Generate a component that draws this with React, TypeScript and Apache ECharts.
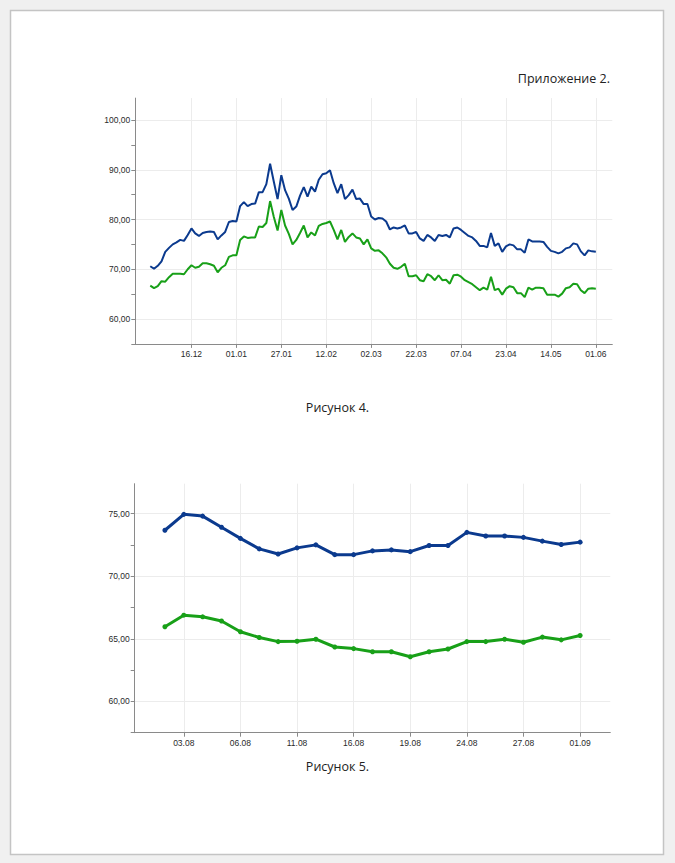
import React, { useEffect, useRef } from "react";
import * as echarts from "echarts";

// ---- Figure 4 (top chart) ----
const topBlue = [
  70.6, 70.1, 70.7, 71.6, 73.5, 74.3, 75.0, 75.4, 75.9, 75.7,
  76.9, 78.2, 77.2, 76.7, 77.3, 77.5, 77.6, 77.5, 76.0, 76.8,
  77.5, 79.5, 79.7, 79.6, 82.7, 83.5, 82.7, 83.1, 83.2, 85.5,
  85.5, 87.1, 91.2, 87.6, 84.1, 88.9, 85.9, 84.2, 81.9, 82.6,
  84.8, 86.5, 84.6, 86.6, 85.6, 88.0, 89.1, 89.3, 89.9, 87.3,
  85.3, 87.1, 84.1, 84.9, 86.0, 84.1, 84.2, 83.1, 83.1, 80.6,
  80.0, 80.3, 80.2, 79.6, 78.0, 78.4, 78.2, 78.4, 78.8, 77.2,
  77.2, 77.5, 76.2, 75.7, 76.9, 76.4, 75.7, 76.9, 76.7, 76.9,
  76.4, 78.2, 78.4, 77.9, 77.3, 76.7, 76.4, 75.7, 74.7, 74.7,
  74.4, 77.3, 74.7, 75.2, 73.5, 74.6, 75.0, 74.8, 74.0, 74.0,
  73.3, 76.0, 75.6, 75.6, 75.6, 75.5, 74.5, 73.7, 73.5, 73.2,
  73.5, 74.2, 74.4, 75.2, 75.0, 73.6, 72.8, 73.8, 73.6, 73.5,
];
const topGreen = [
  66.7, 66.2, 66.6, 67.6, 67.5, 68.4, 69.1, 69.1, 69.1, 69.0,
  70.0, 70.8, 70.3, 70.5, 71.2, 71.2, 71.0, 70.7, 69.4, 70.3,
  70.8, 72.5, 72.8, 72.8, 75.9, 76.6, 76.3, 76.4, 76.4, 78.6,
  78.5, 79.3, 83.7, 80.5, 77.8, 81.9, 78.8, 77.1, 75.0, 75.9,
  77.3, 78.8, 76.4, 77.4, 76.8, 78.7, 79.1, 79.3, 79.6, 77.9,
  76.0, 77.9, 75.5, 76.5, 77.2, 76.4, 76.2, 75.0, 76.0, 74.2,
  73.7, 73.8, 73.2, 72.4, 71.1, 70.3, 70.1, 70.5, 71.1, 68.6,
  68.6, 68.8, 67.8, 67.6, 69.0, 68.6, 67.8, 68.8, 67.8, 67.9,
  67.1, 68.8, 68.9, 68.5, 67.8, 67.4, 67.0, 66.4, 65.8, 66.3,
  65.9, 68.5, 65.8, 66.1, 64.9, 66.1, 66.6, 66.4, 65.2, 65.2,
  64.4, 66.3, 65.9, 66.3, 66.3, 66.2, 64.9, 64.9, 64.9, 64.5,
  65.1, 66.2, 66.4, 67.1, 67.0, 65.8, 65.2, 66.1, 66.2, 66.1,
];
const topTickIndex = [11, 23, 35, 47, 59, 71, 83, 95, 107, 119];
const topTickLabels = ["16.12", "01.01", "27.01", "12.02", "02.03", "22.03", "07.04", "23.04", "14.05", "01.06"];
const topYTicks = [55, 60, 65, 70, 75, 80, 85, 90, 95, 100];
const topYLabels = [60, 70, 80, 90, 100];

// ---- Figure 5 (bottom chart) ----
const botBlue = [
  73.68, 74.95, 74.81, 73.92, 73.03, 72.19, 71.78, 72.27, 72.51, 71.73,
  71.73, 72.03, 72.11, 71.97, 72.46, 72.46, 73.51, 73.22, 73.22, 73.11,
  72.81, 72.54, 72.73,
];
const botGreen = [
  65.97, 66.89, 66.76, 66.43, 65.57, 65.11, 64.78, 64.81, 64.97, 64.35,
  64.22, 63.97, 63.97, 63.57, 63.97, 64.19, 64.78, 64.78, 64.97, 64.73,
  65.14, 64.92, 65.27,
];
const botTickIndex = [1, 4, 7, 10, 13, 16, 19, 22];
const botTickLabels = ["03.08", "06.08", "11.08", "16.08", "19.08", "24.08", "27.08", "01.09"];
const botYTicks = [57.5, 60, 62.5, 65, 67.5, 70, 72.5, 75];
const botYLabels = [60, 65, 70, 75];

const BLUE = "#0b3a8e";
const GREEN = "#18a018";
const AXIS = "#8a8a8a";
const GRID = "#ececec";
const LABEL = "#2a2a2a";
const FONT = "'Liberation Sans', Arial, Helvetica, sans-serif";
const CAPTION_FONT = "12.5px 'Open Sans', 'Noto Sans', sans-serif";

const fmtNum = (v: number) => v.toFixed(2).replace(".", ",");

function xAxisFor(gridIndex: number, min: number, max: number, idx: number[], labels: string[]) {
  return {
    type: "value",
    gridIndex,
    min,
    max,
    axisLine: { show: true, onZero: false, lineStyle: { color: AXIS, width: 1 } },
    axisTick: { show: true, length: 4, customValues: idx, lineStyle: { color: AXIS } },
    axisLabel: {
      customValues: idx,
      margin: 6,
      color: LABEL,
      fontSize: 8.5,
      fontFamily: FONT,
      formatter: (v: number) => {
        const k = idx.indexOf(Math.round(v));
        return k >= 0 ? labels[k] : "";
      },
    },
    splitLine: { show: true, lineStyle: { color: GRID, width: 1 } },
  };
}

function yAxisFor(gridIndex: number, min: number, max: number, interval: number, ticks: number[], labels: number[]) {
  return {
    type: "value",
    gridIndex,
    min,
    max,
    interval,
    axisLine: { show: true, onZero: false, lineStyle: { color: AXIS, width: 1 } },
    axisTick: { show: true, length: 4, customValues: ticks, lineStyle: { color: AXIS } },
    axisLabel: {
      customValues: labels,
      margin: 5,
      color: LABEL,
      fontSize: 8.5,
      fontFamily: FONT,
      formatter: (v: number) => (labels.some((l) => Math.abs(l - v) < 1e-6) ? fmtNum(v) : ""),
    },
    splitLine: { show: true, lineStyle: { color: ["rgba(0,0,0,0)", GRID], width: 1 } },
  };
}

export default function App() {
  const ref = useRef<HTMLDivElement>(null);

  useEffect(() => {
    if (!ref.current) return;
    const chart = echarts.init(ref.current, null, { renderer: "svg" });
    const option: any = {
      animation: false,
      backgroundColor: "#f0f0f0",
      graphic: [
        {
          type: "rect",
          z: -10,
          shape: { x: 10.5, y: 10.5, width: 653, height: 844 },
          style: { fill: "#ffffff", stroke: "#c4c4c4", lineWidth: 1.5 },
          silent: true,
        },
        {
          type: "text",
          right: 65,
          top: 72,
          style: { text: "Приложение 2.", fill: "#222", font: CAPTION_FONT },
        },
        {
          type: "text",
          left: "center",
          top: 401,
          style: { text: "Рисунок 4.", fill: "#222", font: CAPTION_FONT },
        },
        {
          type: "text",
          left: "center",
          top: 760,
          style: { text: "Рисунок 5.", fill: "#222", font: CAPTION_FONT },
        },
      ],
      grid: [
        { left: 135.3, top: 98.1, width: 477, height: 245.8, containLabel: false, outerBoundsMode: "none" },
        { left: 134.7, top: 483.7, width: 475.6, height: 249, containLabel: false, outerBoundsMode: "none" },
      ],
      xAxis: [
        xAxisFor(0, -4, 123.4, topTickIndex, topTickLabels),
        xAxisFor(1, -1.6, 23.6, botTickIndex, botTickLabels),
      ],
      yAxis: [
        yAxisFor(0, 55, 104.4, 5, topYTicks, topYLabels),
        yAxisFor(1, 57.5, 77.4, 2.5, botYTicks, botYLabels),
      ],
      series: [
        {
          type: "line",
          xAxisIndex: 0,
          yAxisIndex: 0,
          data: topBlue.map((v, i) => [i, v]),
          showSymbol: false,
          lineStyle: { color: BLUE, width: 2 },
          itemStyle: { color: BLUE },
        },
        {
          type: "line",
          xAxisIndex: 0,
          yAxisIndex: 0,
          data: topGreen.map((v, i) => [i, v]),
          showSymbol: false,
          lineStyle: { color: GREEN, width: 2 },
          itemStyle: { color: GREEN },
        },
        {
          type: "line",
          xAxisIndex: 1,
          yAxisIndex: 1,
          data: botBlue.map((v, i) => [i, v]),
          symbol: "circle",
          symbolSize: 5,
          lineStyle: { color: BLUE, width: 3 },
          itemStyle: { color: BLUE },
        },
        {
          type: "line",
          xAxisIndex: 1,
          yAxisIndex: 1,
          data: botGreen.map((v, i) => [i, v]),
          symbol: "circle",
          symbolSize: 5,
          lineStyle: { color: GREEN, width: 3 },
          itemStyle: { color: GREEN },
        },
      ],
    };
    chart.setOption(option);
    return () => chart.dispose();
  }, []);

  return (
    <div
      ref={ref}
      style={{ position: "absolute", left: 0, top: 0, width: 675, height: 863 }}
    />
  );
}
